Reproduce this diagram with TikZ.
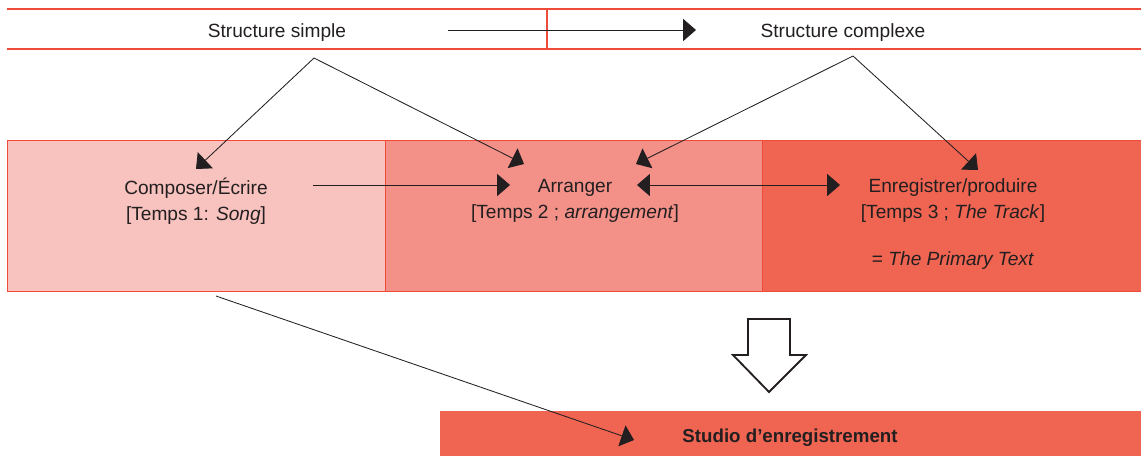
\documentclass[tikz,border=0pt]{standalone}
\usepackage{fontspec}
\setmainfont{Liberation Sans}
\usetikzlibrary{arrows.meta}
\definecolor{rougeligne}{HTML}{EE4B3B}
\definecolor{rougeclair}{HTML}{F8C2BE}
\definecolor{rougemoyen}{HTML}{F39189}
\definecolor{rougefonce}{HTML}{F06452}
\definecolor{encre}{HTML}{231F20}
\begin{document}
\begin{tikzpicture}[x=0.025cm,y=-0.025cm,
	fleche/.style={draw=encre,line width=0.6pt,-{Triangle[length=0.32cm,width=0.55cm]}},
	panneau/.style={draw=rougeligne,line width=0.5pt,minimum width=9.45cm,minimum height=3.775cm,inner sep=0pt},
	texte/.style={text=encre,align=center,font=\fontsize{13.6}{18.5}\selectfont}]
	      \useasboundingbox (0,0) rectangle (1141,456);
	      % bande du haut
	      \draw[draw=rougeligne,line width=0.9pt](7,9)--(1141,9) (7,49)--(1141,49) (547,9)--(547,49);
	      \node[texte] (simple) at (277,33) {Structure simple};
	      \node[texte] (complexe) at (843,33) {Structure complexe};
	      \coordinate (sdebut) at (448,30);
	      \coordinate (sfin) at (696,30);
	      \draw[fleche](sdebut)--(sfin);
	      % les trois temps
	      \node[panneau,fill=rougeclair] (temps1) at (196,215.5) {};
	      \node[panneau,fill=rougemoyen] (temps2) at (574,215.5) {};
	      \node[panneau,fill=rougefonce,minimum width=9.5cm] (temps3) at (952,215.5) {};
	      \node[texte] (composer) at (196,201) {Composer/Écrire\\{[}Temps 1: \textit{Song}{]}};
	      \node[texte] (arranger) at (575,201) {Arranger\\{[}Temps 2 ; \textit{arrangement}{]}};
	      \node[texte] (enregistrer) at (953,201) {Enregistrer/produire\\{[}Temps 3 ; \textit{The Track}{]}};
	      \node[texte] (primary) at (953,261) {= \textit{The Primary Text}};
	      % studio
	      \node[fill=rougefonce,minimum width=17.525cm,minimum height=1.125cm,inner sep=0pt] (studio) at (790.5,433.5) {};
	      \node[texte,font=\fontsize{13.3}{16}\selectfont\bfseries] (studiotexte) at (790,438) {Studio d’enregistrement};
	      \draw[encre,line width=1.3pt](748,319)--(790,319)--(790,355)--(806,355)--(769,392)--(733,355)--(748,355)--cycle;
	      % fleches
	      \coordinate (asimple) at (314,58);
	      \coordinate (acomplexe) at (853,56);
	      \draw[fleche](asimple)--(196,169);
	      \draw[fleche](asimple)--(524,164);
	      \draw[fleche](acomplexe)--(636,164);
	      \draw[fleche](acomplexe)--(978,170);
	      \draw[fleche](313,185)--(510,185);
	      \draw[fleche,{Triangle[length=0.32cm,width=0.55cm]}-{Triangle[length=0.32cm,width=0.55cm]}](637,185)--(840,185);
	      \draw[fleche](216,296)--(634,440);
	    \end{tikzpicture}
\end{document}
